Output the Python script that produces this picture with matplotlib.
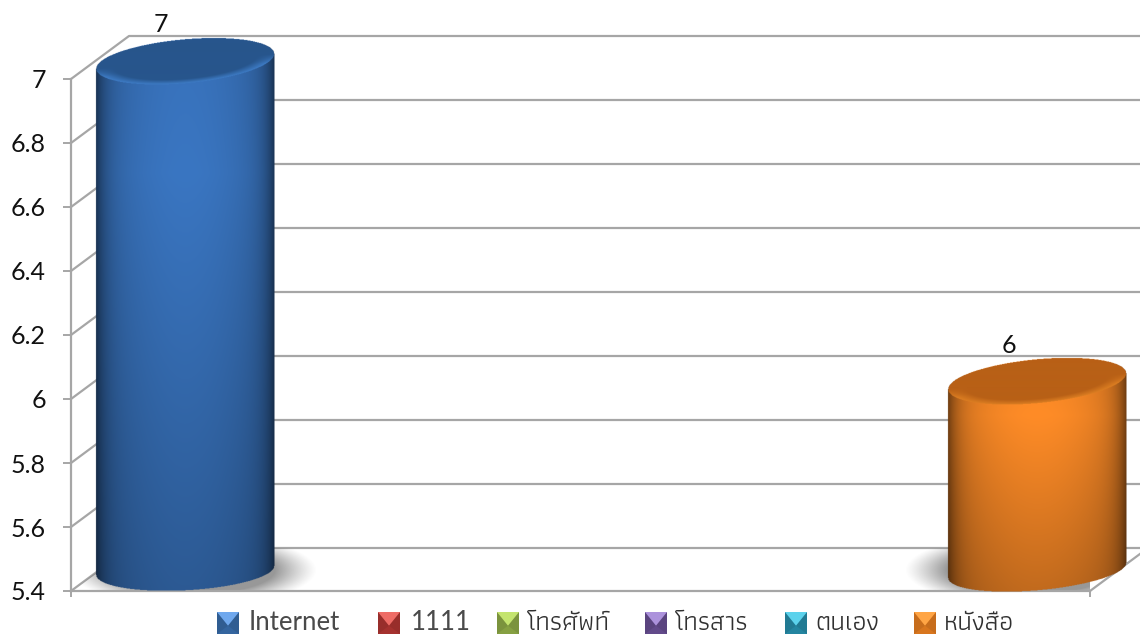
import matplotlib
matplotlib.use("Agg")
import matplotlib.pyplot as plt
import numpy as np
from matplotlib.colors import to_rgb
from matplotlib.patches import Polygon
from matplotlib.transforms import IdentityTransform

# values; series without a visible column stay nan
series_names = ["Internet", "1111", "โทรศัพท์", "โทรสาร", "ตนเอง", "หนังสือ"]
series_values = [7, np.nan, np.nan, np.nan, np.nan, 6]
value_labels = ["7", "", "", "", "", "6"]
y_ticks = [5.4, 5.6, 5.8, 6.0, 6.2, 6.4, 6.6, 6.8, 7.0]
y_tick_labels = ["5.4", "5.6", "5.8", "6", "6.2", "6.4", "6.6", "6.8", "7"]

bar_bright = ["#3A76C2", "#C0403C", "#9BBB59", "#7B5EA0", "#2E9DB8", "#FF8C27"]
bar_cap = ["#27558C", "#8C2E2B", "#71883F", "#5A4475", "#217286", "#B86016"]
bar_rim = ["#3E7CC6", "#D05050", "#ABCB69", "#8B6EB0", "#3EADC8", "#DC7E22"]
legend_dark = ["#34659F", "#A5322F", "#86A042", "#624A8A", "#2485A0", "#D8761E"]
legend_light = ["#6FA8EE", "#EE6C66", "#C4E46E", "#AC92DC", "#5CD2EC", "#FFA545"]
legend_square_x = [217, 378, 497, 645, 785, 914]
legend_text_x = [249, 411, 527, 675, 815, 944]

GRID = "#A6A6A6"
THAI_FONTS = ["Athiti", "Sarabun", "Noto Sans Thai", "DejaVu Sans"]
WIDTH, HEIGHT = 1140, 634
DEPTH_X, DEPTH_Y = 58, 43  # px offset of the back wall
Y_FRONT_BOTTOM, Y_FRONT_TOP = 591, 79
X_LEFT, X_RIGHT = 71, 1090
HALF_W = 89


def _to_display(y_px):
	return HEIGHT - y_px


def _extent(x0, x1, y_bottom, y_top, ax):
	inv = ax.transData.inverted()
	a = inv.transform((x0, _to_display(y_bottom)))
	b = inv.transform((x1, _to_display(y_top)))
	return (a[0], b[0], a[1], b[1])


def _draw_shadow(ax, cx, direction, floor):
	# soft grey blob on the floor, cut off by the floor outline
	xs = np.arange(cx - 170, cx + 170)
	ys = np.arange(530, 610)
	xx, yy = np.meshgrid(xs + 0.5, ys + 0.5)
	r = np.hypot((xx - cx - direction * 8) / 124, (yy - 570) / 36)
	alpha = np.clip((1.0 - r) / 0.34, 0, 1) ** 1.2 * 0.65
	img = np.zeros(xx.shape + (4,))
	img[..., :3] = 0.38
	img[..., 3] = alpha
	im = ax.imshow(
		img,
		extent=_extent(xs[0], xs[-1] + 1, ys[-1] + 1, ys[0], ax),
		aspect="auto",
		interpolation="bilinear",
		zorder=2,
	)
	im.set_clip_path(floor)


def _draw_cylinder(ax, x_data, value, idx, tilt_top, tilt_base, highlight_frac):
	# column centre and top come from the axes scales, the base from the axis floor
	disp = ax.transData.transform((x_data, value))
	base = ax.transData.transform((x_data, y_ticks[0]))
	cx = disp[0]
	cy_top = _to_display(disp[1]) - 18
	cy_base = _to_display(base[1]) - 20.5
	b_top, b_base = 22.0, 20.0

	ss = 2
	xs = np.arange(cx - HALF_W - 2, cx + HALF_W + 2, 1 / ss)
	ys = np.arange(cy_top - 30, cy_base + 30, 1 / ss)
	xx, yy = np.meshgrid(xs, ys)
	u = (xx - cx) / HALF_W
	inside = np.abs(u) <= 1
	root = np.sqrt(np.clip(1 - u ** 2, 0, 1))

	# body
	bright = np.array(to_rgb(bar_bright[idx]))
	y_high = cy_top + (cy_base - cy_top) * highlight_frac
	t = np.clip((yy - y_high) / (cy_base + b_base - y_high), -1, 1)
	vert = np.where(t > 0, 1 - 0.24 * t, 1 + 0.12 * t)
	horiz = 1 - 0.22 * u ** 2 - 0.34 * np.abs(u) ** 9
	shade = (vert * horiz)[..., None]
	body_mask = inside & (yy >= cy_top - tilt_top * u) & (yy <= cy_base - tilt_base * u + b_base * root)
	img = np.zeros(xx.shape + (4,))
	img[..., :3] = np.clip(bright * shade, 0, 1)
	img[..., 3] = body_mask

	# flat top with a lighter front rim
	v = (yy - cy_top + tilt_top * u) / b_top
	r = np.hypot(u, v)
	cap = np.array(to_rgb(bar_cap[idx]))
	rim = np.array(to_rgb(bar_rim[idx]))
	mix = np.clip((r - 0.80) / 0.20, 0, 1) * np.clip(v * 2.5, 0, 1)
	cap_rgb = cap[None, None, :] * (1 - mix[..., None]) + rim[None, None, :] * mix[..., None]
	cap_mask = r <= 1
	img[cap_mask, :3] = cap_rgb[cap_mask]
	img[cap_mask, 3] = 1

	ax.imshow(
		img,
		extent=_extent(xs[0], xs[-1], ys[-1], ys[0], ax),
		aspect="auto",
		interpolation="antialiased",
		zorder=3,
		clip_on=False,
	)


def _legend_square(fig, x, y, size, dark, light):
	pts = {
		"tl": (x, _to_display(y)),
		"tr": (x + size, _to_display(y)),
		"br": (x + size, _to_display(y + size)),
		"bl": (x, _to_display(y + size)),
		"mid": (x + size / 2, _to_display(y + size * 0.62)),
	}
	dark_rgb = np.array(to_rgb(dark))
	faces = [
		(("tl", "tr", "br", "bl"), dark_rgb),
		(("tl", "mid", "bl"), dark_rgb * 0.92),
		(("tr", "mid", "br"), dark_rgb * 0.92),
		(("tl", "tr", "mid"), to_rgb(light)),
	]
	for keys, color in faces:
		fig.add_artist(
			Polygon([pts[k] for k in keys], closed=True, facecolor=color, edgecolor="none", transform=IdentityTransform())
		)


fig = plt.figure(figsize=(WIDTH / 100, HEIGHT / 100), dpi=100)
ax = fig.add_axes([
	X_LEFT / WIDTH,
	(HEIGHT - Y_FRONT_BOTTOM) / HEIGHT,
	(X_RIGHT - X_LEFT) / WIDTH,
	(Y_FRONT_BOTTOM - Y_FRONT_TOP) / HEIGHT,
])
n_series = len(series_names)
ax.set_xlim(0, n_series)
ax.set_ylim(y_ticks[0], y_ticks[-1])
ax.patch.set_alpha(0)

for name in ["top", "right"]:
	ax.spines[name].set_visible(False)
for name in ["left", "bottom"]:
	ax.spines[name].set_color(GRID)
	ax.spines[name].set_linewidth(1.6)

ax.set_yticks(y_ticks, y_tick_labels, fontname="Lato", fontsize=18, color="#111111")
ax.set_xticks([0, n_series], ["", ""])
ax.tick_params(axis="y", length=6, width=1.4, color=GRID, pad=12)
ax.tick_params(axis="x", length=4.5, width=1.4, color=GRID)
for label in ax.get_yticklabels():
	label.set_y(label.get_position()[1])

px_per_x = (X_RIGHT - X_LEFT) / n_series
px_per_y = (Y_FRONT_BOTTOM - Y_FRONT_TOP) / (y_ticks[-1] - y_ticks[0])
depth_x = DEPTH_X / px_per_x
depth_y = DEPTH_Y / px_per_y
wall_right = n_series + (WIDTH - X_RIGHT) / px_per_x

# gridlines: diagonal on the left wall, then along the back wall
for tick in y_ticks:
	ax.plot(
		[0, depth_x, wall_right],
		[tick, tick + depth_y, tick + depth_y],
		color=GRID,
		linewidth=1.6,
		clip_on=False,
		zorder=1,
		solid_capstyle="butt",
	)
ax.plot([n_series, wall_right], [y_ticks[0], y_ticks[0] + depth_y * (WIDTH - X_RIGHT) / DEPTH_X], color=GRID, linewidth=1.6, clip_on=False, zorder=1)

floor = Polygon(
	[(0, y_ticks[0]), (depth_x, y_ticks[0] + depth_y), (wall_right, y_ticks[0] + depth_y), (n_series, y_ticks[0])],
	closed=True,
	facecolor="none",
	edgecolor="none",
	transform=ax.transData,
)
ax.add_patch(floor)

tilts_top = [7.5, 0, 0, 0, 0, 8.0]
tilts_base = [4.5, 0, 0, 0, 0, 7.5]
highlight = [0.22, 0, 0, 0, 0, 0.18]
label_offsets = [(-17.3, 39), None, None, None, None, (-20.2, 38.5)]

for i, value in enumerate(series_values):
	if np.isnan(value):
		continue
	x_data = i + 0.5 + depth_x / 2 + i * 0.003
	cx_disp = ax.transData.transform((x_data, value))[0]
	_draw_shadow(ax, cx_disp, 1 if i == 0 else -1, floor)
	_draw_cylinder(ax, x_data, value, i, tilts_top[i], tilts_base[i], highlight[i])
	ax.annotate(
		value_labels[i],
		xy=(x_data, value),
		xytext=label_offsets[i],
		textcoords="offset points",
		ha="center",
		va="center",
		fontname="Lato",
		fontsize=18,
		color="#111111",
		annotation_clip=False,
		zorder=5,
	)

# imshow changes the limits, put them back
ax.set_xlim(0, n_series)
ax.set_ylim(y_ticks[0], y_ticks[-1])

for i, name in enumerate(series_names):
	_legend_square(fig, legend_square_x[i], 612, 22, legend_dark[i], legend_light[i])
	is_latin = name.isascii()
	fig.text(
		legend_text_x[i] / WIDTH,
		(HEIGHT - 630) / HEIGHT,
		name,
		family=["Lato"] if is_latin else THAI_FONTS,
		fontsize=18.5 if is_latin else 19,
		color="#4A4A4A" if is_latin else "#303030",
		ha="left",
		va="baseline",
	)

fig.savefig("out.png", dpi=100)
